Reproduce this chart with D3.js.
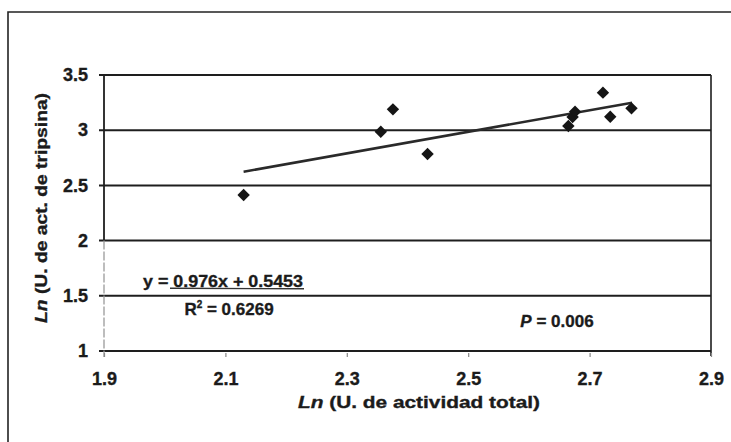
<!DOCTYPE html>
<html>
<head>
<meta charset="utf-8">
<script src="https://cdn.jsdelivr.net/npm/d3@7"></script>
<style>
  body { margin: 0; background: #fff; }
  svg { display: block; }
  text { font-family: Arial, "Liberation Sans", sans-serif; font-weight: bold; fill: #1b1b1b;
         stroke: #1b1b1b; stroke-width: 0.35px; }
</style>
</head>
<body>
<svg id="chart"></svg>
<script>
/* global d3 */

// data
var lnTotal    = [2.130, 2.356, 2.376, 2.433, 2.665, 2.672, 2.676, 2.722, 2.734, 2.769];
var lnTripsina = [2.413, 2.986, 3.189, 2.784, 3.038, 3.120, 3.168, 3.340, 3.122, 3.198];
var xTicks = [1.9, 2.1, 2.3, 2.5, 2.7, 2.9];
var yTicks = [1, 1.5, 2, 2.5, 3, 3.5];
var slope = 0.976, intercept = 0.5453;
var fitRange = [2.13, 2.77];
var eqLabel = "y = 0.976x + 0.5453";
var r2Value = "0.6269";
var pValue = "0.006";

var width = 731, height = 442,
  margin = { top: 75, right: 20, bottom: 91, left: 104 };

var svg = d3.select("#chart")
  .attr("width", width)
  .attr("height", height);

// outer frame (cropped on right and bottom)
svg.append("path")
  .attr("d", "M8," + (height + 5) + "V12H" + (width + 5))
  .attr("fill", "none")
  .attr("stroke", "#222")
  .attr("stroke-width", 1.6);

var x = d3.scaleLinear().domain([1.9, 2.9]).range([margin.left, width - margin.right]);
var y = d3.scaleLinear().domain([1, 3.5]).range([height - margin.bottom, margin.top]);

var ink = "#1e1e1e";

// horizontal grid lines
svg.append("g")
  .selectAll("line")
  .data(yTicks)
  .enter().append("line")
  .attr("x1", x(1.9) - 5)
  .attr("x2", x(2.9))
  .attr("y1", function(d) { return y(d); })
  .attr("y2", function(d) { return y(d); })
  .attr("stroke", ink)
  .attr("stroke-width", function(d) { return d === 1 ? 2.2 : 2; });

// left axis: black on top part, grey at the bottom
svg.append("line")
  .attr("x1", x(1.9)).attr("x2", x(1.9))
  .attr("y1", y(3.5)).attr("y2", y(2))
  .attr("stroke", ink).attr("stroke-width", 1.8);
svg.append("line")
  .attr("x1", x(1.9)).attr("x2", x(1.9))
  .attr("y1", y(2)).attr("y2", y(1) + 6)
  .attr("stroke", "#9a9a9a").attr("stroke-width", 1.3)
  .attr("stroke-dasharray", "9,2");

// right border of plot area
svg.append("line")
  .attr("x1", x(2.9)).attr("x2", x(2.9))
  .attr("y1", y(3.5)).attr("y2", y(1) + 5)
  .attr("stroke", ink).attr("stroke-width", 1.6);

// y tick labels
var yAxis = d3.axisLeft(y)
  .tickValues(yTicks)
  .tickSize(0)
  .tickPadding(16)
  .tickFormat(d3.format(""));
var gy = svg.append("g")
  .attr("transform", "translate(" + x(1.9) + ",0)")
  .call(yAxis);
gy.select(".domain").remove();
gy.selectAll("text").style("font-size", "18px");

// x axis: small faint ticks + labels
var xAxis = d3.axisBottom(x)
  .tickValues(xTicks)
  .tickSize(4)
  .tickPadding(15)
  .tickFormat(d3.format(".1f"));
var gx = svg.append("g")
  .attr("transform", "translate(0," + (y(1) + 2) + ")")
  .call(xAxis);
gx.select(".domain").remove();
gx.selectAll("line").attr("stroke", "#888").attr("stroke-width", 1.2);
gx.selectAll("text").style("font-size", "18px");

// trend line
svg.append("line")
  .attr("x1", x(fitRange[0]))
  .attr("y1", y(slope * fitRange[0] + intercept))
  .attr("x2", x(fitRange[1]))
  .attr("y2", y(slope * fitRange[1] + intercept))
  .attr("stroke", "#2a2a2a")
  .attr("stroke-width", 2.6);

// points
var diamond = "M0,-6.2L6.2,0L0,6.2L-6.2,0Z";
svg.append("g")
  .selectAll("path")
  .data(d3.zip(lnTotal, lnTripsina))
  .enter().append("path")
  .attr("d", diamond)
  .attr("transform", function(d) { return "translate(" + x(d[0]) + "," + y(d[1]) + ")"; })
  .attr("fill", "#151515");

// equation
svg.append("text")
  .attr("x", 223)
  .attr("y", y(1.5) - 9)
  .attr("text-anchor", "middle")
  .attr("textLength", 160)
  .attr("lengthAdjust", "spacingAndGlyphs")
  .style("font-size", "17px")
  .text(eqLabel);
svg.append("line")
  .attr("x1", 170).attr("x2", 304)
  .attr("y1", y(1.5) - 7.5).attr("y2", y(1.5) - 7)
  .attr("stroke", "#333").attr("stroke-width", 1.4);

var r2 = svg.append("text")
  .attr("x", 229)
  .attr("y", y(1.5) + 19)
  .attr("text-anchor", "middle")
  .style("font-size", "17px");
r2.append("tspan").text("R");
r2.append("tspan").attr("dy", -7).style("font-size", "10px").text("2");
r2.append("tspan").attr("dy", 7).text(" = " + r2Value);

var pt = svg.append("text")
  .attr("x", 557)
  .attr("y", y(1.5) + 31)
  .attr("text-anchor", "middle")
  .style("font-size", "17px");
pt.append("tspan").style("font-style", "italic").text("P");
pt.append("tspan").text(" = " + pValue);

// axis titles
var xt = svg.append("text")
  .attr("x", 419)
  .attr("y", 408)
  .attr("text-anchor", "middle")
  .attr("textLength", 242)
  .attr("lengthAdjust", "spacingAndGlyphs")
  .style("font-size", "17px");
xt.append("tspan").style("font-style", "italic").text("Ln");
xt.append("tspan").text(" (U. de actividad total)");

var yt = svg.append("text")
  .attr("transform", "translate(47,208) rotate(-90)")
  .attr("text-anchor", "middle")
  .attr("textLength", 230)
  .attr("lengthAdjust", "spacingAndGlyphs")
  .style("font-size", "17px");
yt.append("tspan").style("font-style", "italic").text("Ln");
yt.append("tspan").text(" (U. de act. de tripsina)");
</script>
</body>
</html>
